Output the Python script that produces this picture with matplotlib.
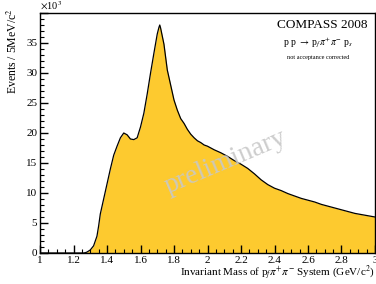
import matplotlib
matplotlib.use("Agg")
import matplotlib.pyplot as plt
from matplotlib.ticker import MultipleLocator, FuncFormatter

mass = [1.00, 1.10, 1.20, 1.26, 1.27, 1.28, 1.30, 1.32, 1.34, 1.35, 1.36, 1.38,
        1.40, 1.42, 1.44, 1.46, 1.48, 1.50, 1.52, 1.54, 1.56, 1.58, 1.60,
        1.62, 1.64, 1.66, 1.68, 1.70, 1.71, 1.715, 1.72, 1.74, 1.76, 1.78,
        1.80, 1.82, 1.84, 1.86, 1.88, 1.90, 1.92, 1.94, 1.96, 1.98, 2.00,
        2.04, 2.08, 2.12, 2.16, 2.20, 2.24, 2.28, 2.32, 2.36, 2.40, 2.44,
        2.48, 2.52, 2.56, 2.60, 2.64, 2.68, 2.72, 2.76, 2.80, 2.84, 2.88,
        2.92, 2.96, 3.00]
events_k = [0.0, 0.0, 0.0, 0.0, 0.05, 0.15, 0.5, 1.2, 2.8, 4.5, 6.5, 9.0,
            11.5, 14.0, 16.3, 17.8, 19.2, 20.0, 19.7, 19.0, 18.9, 19.2, 21.0,
            23.3, 26.5, 30.0, 33.3, 36.5, 37.6, 38.0, 37.5, 34.8, 30.5, 28.0,
            25.5, 23.8, 22.4, 21.6, 20.6, 19.8, 19.2, 18.7, 18.4, 18.0, 17.8,
            17.2, 16.7, 16.1, 15.4, 14.8, 14.1, 13.2, 12.2, 11.4, 10.8, 10.4,
            9.9, 9.5, 9.1, 8.8, 8.5, 8.1, 7.8, 7.5, 7.2, 6.9, 6.6,
            6.4, 6.2, 6.0]

plt.rcParams['font.family'] = ['Liberation Serif', 'DejaVu Serif']
plt.rcParams['mathtext.fontset'] = 'stix'

fig = plt.figure(figsize=(3.76, 2.84), dpi=100)
ax = fig.add_axes([40/376, 31/284, 335/376, 240/284])

ax.fill_between(mass, events_k, 0, color='#fdca2f', linewidth=0)
ax.plot(mass, events_k, color='black', linewidth=0.9)

ax.set_xlim(1, 3)
ax.set_ylim(0, 40)
ax.xaxis.set_major_locator(MultipleLocator(0.2))
ax.xaxis.set_minor_locator(MultipleLocator(0.05))
ax.yaxis.set_major_locator(MultipleLocator(5))
ax.yaxis.set_minor_locator(MultipleLocator(1))
ax.xaxis.set_major_formatter(FuncFormatter(lambda v, p: ('%g' % round(v, 2))))
ax.yaxis.set_major_formatter(FuncFormatter(lambda v, p: '' if v >= 40 else '%d' % v))
ax.tick_params(which='both', direction='in', top=False, right=False, labelsize=8, pad=2)
ax.tick_params(which='major', length=6, width=1)
ax.tick_params(which='minor', length=3, width=0.8)
for s in ax.spines.values():
    s.set_linewidth(1)

fig.text(40/376, 1 - 6/284, r'$\times$10$^{3}$', fontsize=7.5, ha='left', va='center')
fig.text(13/376, 1 - 8/284, 'Events / 5MeV/c$^{2}$', rotation=90, fontsize=8.5,
         ha='center', va='top')
fig.text(375/376, 1 - 273/284,
         r'Invariant Mass of p$_{f}$$\pi^{+}\pi^{-}$ System (GeV/c$^{2}$)',
         fontsize=8, ha='right', va='center')

fig.text(322/376, 1 - 25/284, 'COMPASS 2008', fontsize=9.5, ha='center', va='center')
fig.text(318/376, 1 - 43/284, r'p p $\rightarrow$ p$_{f}$$\pi^{+}\pi^{-}$ p$_{s}$',
         fontsize=7, ha='center', va='center')
fig.text(318/376, 1 - 58/284, 'not acceptance corrected', fontsize=4.5,
         ha='center', va='center')
fig.text(226/376, 1 - 162/284, 'preliminary', fontsize=20, color='#c8c8c8',
         rotation=23, ha='center', va='center', alpha=0.9)

fig.savefig('out.png', dpi=100)
